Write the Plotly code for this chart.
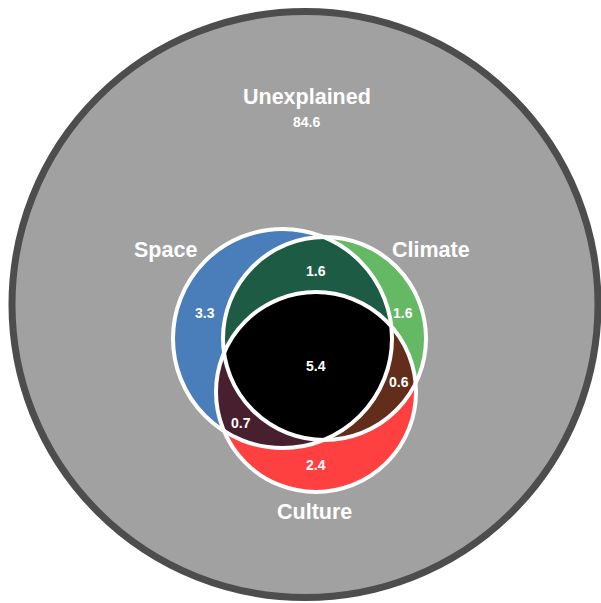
import numpy as np
import plotly.graph_objects as go

# ---------------- data ----------------
set_names = ["Space", "Climate", "Culture"]
# region membership codes (Space, Climate, Culture)
region_codes = ["100", "010", "001", "110", "101", "011", "111"]
region_values = [3.3, 1.6, 2.4, 1.6, 0.7, 0.6, 5.4]
unexplained_name = "Unexplained"
unexplained_value = 84.6

# ---------------- layout / style ----------------
W, H = 601, 603
outer = dict(cx=305, cy=304.5, r=293, fill="#a1a1a1", line="#4d4d4d", width=7)
circle_geom = [(282.5, 338.5, 109.5), (324.5, 338.5, 101.5), (316.0, 392.0, 100.0)]
set_colors = ["#4a7ebb", "#65b864", "#ff4040"]
region_colors = {"110": "#1d5b45", "101": "#481f2f", "011": "#622d1a", "111": "#000000"}
set_label_pos = [(165, 250), (431, 250), (314, 512)]
region_label_pos = {
    "100": (205, 313), "010": (403, 313), "001": (316, 465),
    "110": (316, 271), "101": (241, 423), "011": (399, 382), "111": (316, 366),
}
unexpl_pos = (306.5, 97)
unexpl_val_pos = (306.5, 122)
FONT = "Liberation Sans, Arial, Helvetica, sans-serif"


def intersection_polygon(idxs, n=2880):
    xs, ys = [], []
    t = np.linspace(0, 2 * np.pi, n, endpoint=False)
    for i in idxs:
        cx, cy, r = circle_geom[i]
        x = cx + r * np.cos(t)
        y = cy + r * np.sin(t)
        m = np.ones_like(x, dtype=bool)
        for j in idxs:
            if j == i:
                continue
            cxj, cyj, rj = circle_geom[j]
            m &= (x - cxj) ** 2 + (y - cyj) ** 2 <= rj ** 2 + 1e-6
        xs.append(x[m])
        ys.append(y[m])
    xs = np.concatenate(xs)
    ys = np.concatenate(ys)
    mx, my = xs.mean(), ys.mean()
    order = np.argsort(np.arctan2(ys - my, xs - mx))
    xs, ys = xs[order], ys[order]
    return np.append(xs, xs[0]), np.append(ys, ys[0])


fig = go.Figure()
shapes = []
# outer circle
shapes.append(dict(type="circle", xref="x", yref="y", layer="below",
                   x0=outer["cx"] - outer["r"], x1=outer["cx"] + outer["r"],
                   y0=outer["cy"] - outer["r"], y1=outer["cy"] + outer["r"],
                   fillcolor=outer["fill"], line=dict(color=outer["line"], width=outer["width"])))
# full set circles
for (cx, cy, r), col in zip(circle_geom, set_colors):
    shapes.append(dict(type="circle", xref="x", yref="y", layer="below",
                       x0=cx - r, x1=cx + r, y0=cy - r, y1=cy + r,
                       fillcolor=col, line=dict(width=0)))

# intersection regions as filled traces
for code in ["110", "101", "011", "111"]:
    idxs = [k for k, c in enumerate(code) if c == "1"]
    px, py = intersection_polygon(idxs)
    fig.add_trace(go.Scatter(x=px, y=py, mode="lines", fill="toself",
                             fillcolor=region_colors[code], line=dict(width=0),
                             hoverinfo="skip", showlegend=False))

# white outlines on top
for (cx, cy, r) in circle_geom:
    shapes.append(dict(type="circle", xref="x", yref="y", layer="above",
                       x0=cx - r, x1=cx + r, y0=cy - r, y1=cy + r,
                       fillcolor="rgba(0,0,0,0)", line=dict(color="white", width=4)))

annotations = []
for name, (x, y) in zip(set_names, set_label_pos):
    annotations.append(dict(x=x, y=y, xref="x", yref="y", text="<b>%s</b>" % name,
                            showarrow=False, font=dict(family=FONT, size=21.5, color="white")))
for code, val in zip(region_codes, region_values):
    x, y = region_label_pos[code]
    annotations.append(dict(x=x, y=y, xref="x", yref="y", text="<b>%.1f</b>" % val,
                            showarrow=False, font=dict(family=FONT, size=14, color="white")))
annotations.append(dict(x=unexpl_pos[0], y=unexpl_pos[1], xref="x", yref="y",
                        text="<b>%s</b>" % unexplained_name, showarrow=False,
                        font=dict(family=FONT, size=21.5, color="white")))
annotations.append(dict(x=unexpl_val_pos[0], y=unexpl_val_pos[1], xref="x", yref="y",
                        text="<b>%.1f</b>" % unexplained_value, showarrow=False,
                        font=dict(family=FONT, size=14, color="white")))

fig.update_layout(
    width=W, height=H, margin=dict(l=0, r=0, t=0, b=0),
    paper_bgcolor="white", plot_bgcolor="white",
    xaxis=dict(range=[0, W], visible=False, fixedrange=True),
    yaxis=dict(range=[H, 0], visible=False, fixedrange=True),
    shapes=shapes, annotations=annotations, showlegend=False,
)
fig.write_html("out.html", config={"displayModeBar": False},
               post_script="document.body.style.margin='0px';document.body.style.overflow='hidden';")
